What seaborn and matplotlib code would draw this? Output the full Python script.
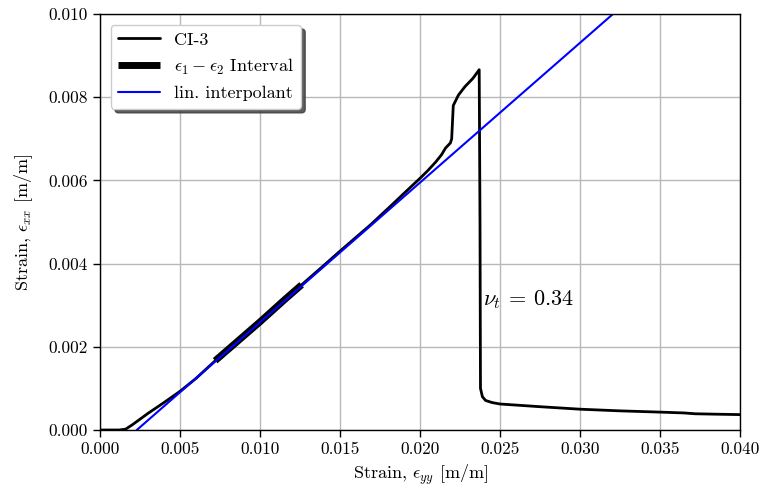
import numpy as np
import pandas as pd
import matplotlib
matplotlib.use("Agg")
import matplotlib.pyplot as plt
import seaborn as sns

# Transverse vs. axial strain for specimen CI-3
strain_yy = [0.0, 0.0012, 0.0016, 0.0020, 0.0025, 0.0030, 0.0040, 0.0050, 0.0060,
             0.0073, 0.0085, 0.0100, 0.0115, 0.0126, 0.0140, 0.0150, 0.0169, 0.0181,
             0.0195, 0.0200, 0.0205, 0.0210, 0.02135, 0.0216, 0.0219, 0.02198,
             0.02208, 0.0224, 0.0228, 0.0233, 0.0237, 0.02375, 0.02378, 0.0239,
             0.0241, 0.0245, 0.0250, 0.0275, 0.0300, 0.0325, 0.0350, 0.0365,
             0.0372, 0.0385, 0.0400]
strain_xx = [0.0, 0.0, 0.00002, 0.00012, 0.00026, 0.00040, 0.00066, 0.00093, 0.00124,
             0.00170, 0.00210, 0.00260, 0.00312, 0.00349, 0.00396, 0.00430, 0.00493, 0.00536,
             0.00587, 0.00605, 0.00624, 0.00645, 0.00662, 0.00678, 0.00690, 0.00700,
             0.00780, 0.00805, 0.00825, 0.00845, 0.00866, 0.00500, 0.00100, 0.00080,
             0.00071, 0.00066, 0.000625, 0.00056, 0.00050, 0.00046, 0.00043, 0.00041,
             0.00039, 0.00038, 0.00037]

# Strain window used for the fit
eps_1 = 0.0072
eps_2 = 0.0126

# Fitted Poisson's ratio and x-intercept of the linear interpolant
nu_t = 0.336
x_intercept = 0.0023

x_ticks = [0.000, 0.005, 0.010, 0.015, 0.020, 0.025, 0.030, 0.035, 0.040]
y_ticks = [0.000, 0.002, 0.004, 0.006, 0.008, 0.010]

sns.set_theme(style="whitegrid")
plt.rcParams.update({
    "font.family": ["cmr10", "DejaVu Serif"],
    "mathtext.fontset": "cm",
    "axes.formatter.use_mathtext": True,
    "axes.edgecolor": "black",
    "axes.linewidth": 1.0,
    "grid.color": "#b8b8b8",
    "grid.linewidth": 1.0,
    "xtick.bottom": True,
    "ytick.left": True,
    "xtick.major.size": 5,
    "ytick.major.size": 5,
    "xtick.color": "black",
    "ytick.color": "black",
    "text.color": "black",
    "axes.labelcolor": "black",
})

curve = pd.DataFrame({"eyy": strain_yy, "exx": strain_xx})
window = curve[(curve.eyy >= eps_1) & (curve.eyy <= eps_2)].copy()
ends = pd.DataFrame({"eyy": [eps_1, eps_2],
                     "exx": np.interp([eps_1, eps_2], strain_yy, strain_xx)})
window = pd.concat([ends.iloc[:1], window, ends.iloc[1:]]).sort_values("eyy")

fit_x = np.array([x_intercept, 0.045])
fit = pd.DataFrame({"eyy": fit_x, "exx": nu_t * (fit_x - x_intercept)})

fig = plt.figure(figsize=(7.63, 4.86), dpi=100)
ax = fig.add_axes([100 / 763, 56 / 486, 640 / 763, 416 / 486])

sns.lineplot(data=curve, x="eyy", y="exx", ax=ax, color="black", lw=2.0,
             sort=False, estimator=None, label="CI-3")
sns.lineplot(data=window, x="eyy", y="exx", ax=ax, color="black", lw=5.0,
             sort=False, estimator=None, label=r"$\epsilon_1 - \epsilon_2$ Interval",
             solid_capstyle="butt")
sns.lineplot(data=fit, x="eyy", y="exx", ax=ax, color="blue", lw=1.5,
             sort=False, estimator=None, label="lin. interpolant")

ax.text(0.02394, 0.0030, r"$\nu_t$ = %.2f" % nu_t, fontsize=16)

ax.set_xlim(0, 0.040)
ax.set_ylim(0, 0.010)
ax.set_xticks(x_ticks)
ax.set_yticks(y_ticks)
ax.xaxis.set_major_formatter(matplotlib.ticker.FormatStrFormatter("%.3f"))
ax.yaxis.set_major_formatter(matplotlib.ticker.FormatStrFormatter("%.3f"))
ax.tick_params(labelsize=12.5, width=1.0)
ax.set_xlabel(r"Strain, $\epsilon_{yy}$ [m/m]", fontsize=13, labelpad=4)
ax.set_ylabel(r"Strain, $\epsilon_{xx}$ [m/m]", fontsize=13, labelpad=10)

leg = ax.legend(loc="upper left", fontsize=13, frameon=True, fancybox=True,
                shadow={"ox": 3, "oy": -3, "color": "0.25", "alpha": 0.85},
                framealpha=1.0, edgecolor="#cccccc",
                borderaxespad=0.6, handlelength=2.3)
leg.get_frame().set_linewidth(1.0)

fig.savefig("out.png", dpi=100)
